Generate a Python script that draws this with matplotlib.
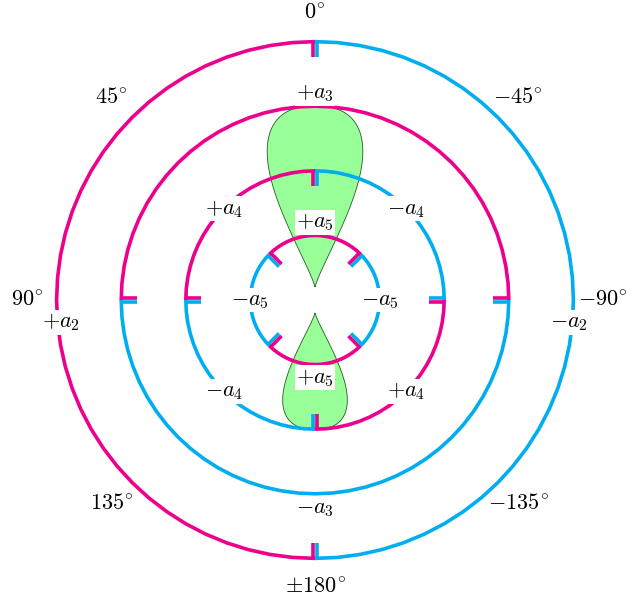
import numpy as np
import matplotlib
matplotlib.use("Agg")
from matplotlib import pyplot as plt

plt.rcParams['mathtext.fontset'] = 'cm'
plt.rcParams['font.family'] = 'serif'
plt.rcParams['font.serif'] = ['DejaVu Serif']

MAGENTA = '#EC008C'
CYAN = '#00AEEF'

# rings: harmonic, radius, angles (deg, ccw from top) where the sign changes,
# colour of the arc that starts at the first boundary
ring_names = ['a_2', 'a_3', 'a_4', 'a_5']
ring_radii = [4, 3, 2, 1]
ring_bounds = [[0, 180], [90, 270], [0, 90, 180, 270], [45, 135, 225, 315]]
ring_first = [MAGENTA, CYAN, MAGENTA, CYAN]

# angle labels around the outside
angle_vals = [0, 45, 90, 135, 180, 225, 270, 315]
angle_text = [r'$0^{\!\circ}$', r'$45^{\!\circ}$', r'$90^{\!\circ}$', r'$135^{\!\circ}$',
              r'$\pm180^{\!\circ}$', r'$-135^{\!\circ}$', r'$-90^{\!\circ}$', r'$-45^{\!\circ}$']

# coefficient sign labels: text, radius, angle
coef_text = [r'$+a_2$', r'$-a_2$',
             r'$+a_3$', r'$-a_3$',
             r'$+a_4$', r'$-a_4$', r'$-a_4$', r'$+a_4$',
             r'$+a_5$', r'$+a_5$', r'$-a_5$', r'$-a_5$']
coef_r = [3.95, 3.95, 3.2, 3.22, 2, 2, 2, 2, 1.2, 1.2, 1, 1]
coef_ang = [95, 265, 0, 180, 45, 315, 135, 225, 0, 180, 90, 270]

# green lobes: apex distance, tip distance, max half width (units of ring spacing)
lobe_dir = [1, -1]
lobe_apex = [0.2, 0.2]
lobe_tip = [3.0, 2.0]
lobe_width = [0.74, 0.5]

unit = 64.6  # px per ring
W, H = 637, 604
cx, cy = 315, 300

fig = plt.figure(figsize=(W / 100, H / 100), dpi=100)
ax = fig.add_axes([0, 0, 1, 1])
ax.set_xlim(-cx / unit, (W - cx) / unit)
ax.set_ylim(-(H - cy) / unit, cy / unit)
ax.axis('off')


def pt(r, th):
    t = np.radians(th)
    return -r * np.sin(t), r * np.cos(t)


# lobes
for d, a, tip, w in zip(lobe_dir, lobe_apex, lobe_tip, lobe_width):
    t = np.linspace(0, np.pi, 200)
    u = (1 - np.cos(t)) / 2
    prof = u ** 1.2 * (1 - u) ** 0.4
    prof = prof / prof.max() * w
    ys = d * (a + u * (tip - a))
    xs = np.concatenate([prof, -prof[::-1]])
    ys = np.concatenate([ys, ys[::-1]])
    ax.fill(xs, ys, facecolor='#99FF99', edgecolor='#1f5f1f', lw=0.6, zorder=1)

lw = 2.6
off = lw / 72 * 100 / 2 / unit  # half a line width in data units
tick_len = 0.24

for r, bounds, first in zip(ring_radii, ring_bounds, ring_first):
    n = len(bounds)
    for i in range(n):
        a0 = bounds[i]
        a1 = bounds[(i + 1) % n]
        if a1 <= a0:
            a1 += 360
        col = first if i % 2 == 0 else (CYAN if first == MAGENTA else MAGENTA)
        nseg = max(2, int(round((a1 - a0) / 5.0)))
        th = np.linspace(a0, a1, nseg + 1)
        x, y = pt(r, th)
        ax.plot(x, y, color=col, lw=lw, solid_capstyle='butt', zorder=2)
        # tick pieces at both ends, shifted onto this arc's side
        for ang, sgn in ((a0, 1), (a1, -1)):
            t = np.radians(ang)
            tx, ty = -np.cos(t) * sgn * off, -np.sin(t) * sgn * off
            x0, y0 = pt(r + off * 0.5, ang)
            x1, y1 = pt(r - tick_len, ang)
            ax.plot([x0 + tx, x1 + tx], [y0 + ty, y1 + ty], color=col, lw=lw,
                    solid_capstyle='butt', zorder=2)

for ang, s in zip(angle_vals, angle_text):
    x, y = pt(4.45, ang)
    ax.text(x, y, s, ha='center', va='center', fontsize=16, zorder=4)

for s, r, ang in zip(coef_text, coef_r, coef_ang):
    x, y = pt(r, ang)
    ax.text(x, y, s, ha='center', va='center', fontsize=16, zorder=4,
            bbox=dict(facecolor='white', edgecolor='none', pad=1.0))

fig.savefig('out.png', dpi=100)
